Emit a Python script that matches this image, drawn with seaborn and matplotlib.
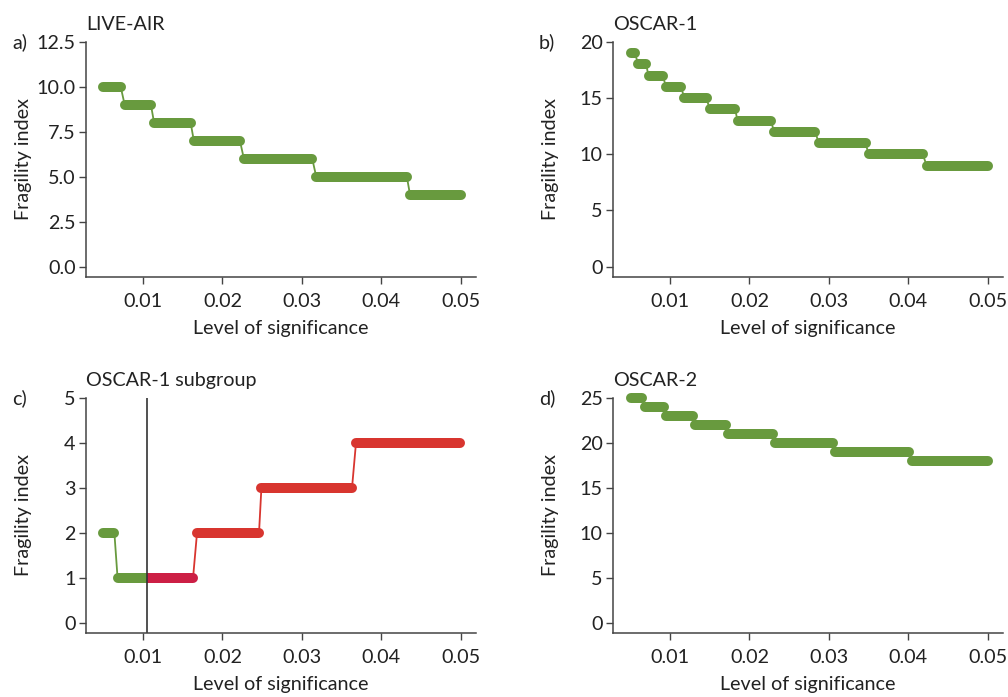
import numpy as np
import pandas as pd
import seaborn as sns
import matplotlib.pyplot as plt
from matplotlib.patches import Rectangle

sns.set_theme(style="ticks")
plt.rcParams['font.family'] = ['Lato', 'DejaVu Sans']

GREEN = "#689a3e"
RED = "#d8352f"
CRIMSON = "#cc1f45"

# fragility index per level of significance, one step per entry
a_vals = [10, 9, 8, 7, 6, 5, 4]
a_start = [0.0050, 0.0077, 0.0114, 0.0164, 0.0227, 0.0318, 0.0436]
a_end = [0.0072, 0.0110, 0.0160, 0.0222, 0.0313, 0.0432, 0.0500]

b_vals = [19, 18, 17, 16, 15, 14, 13, 12, 11, 10, 9]
b_start = [0.0051, 0.0060, 0.0073, 0.0095, 0.0118, 0.0150, 0.0185, 0.0231, 0.0287, 0.0350, 0.0423]
b_end = [0.0056, 0.0070, 0.0091, 0.0114, 0.0146, 0.0182, 0.0227, 0.0283, 0.0346, 0.0418, 0.0500]

c_vals = [2, 1, 1, 2, 3, 4]
c_start = [0.0050, 0.0068, 0.0105, 0.0168, 0.0249, 0.0368]
c_end = [0.0064, 0.0105, 0.0163, 0.0246, 0.0363, 0.0499]
c_cols = [GREEN, GREEN, CRIMSON, RED, RED, RED]
c_cut = 0.0105

d_vals = [25, 24, 23, 22, 21, 20, 19, 18]
d_start = [0.0051, 0.0068, 0.0095, 0.0131, 0.0173, 0.0232, 0.0308, 0.0404]
d_end = [0.0065, 0.0092, 0.0129, 0.0170, 0.0229, 0.0305, 0.0401, 0.0500]

panels = [
    ("a)", "LIVE-AIR", a_vals, a_start, a_end, [GREEN] * 7, np.arange(0, 12.6, 2.5), "{:.1f}"),
    ("b)", "OSCAR-1", b_vals, b_start, b_end, [GREEN] * 11, np.arange(0, 21, 5), "{:.0f}"),
    ("c)", "OSCAR-1 subgroup", c_vals, c_start, c_end, c_cols, np.arange(0, 6, 1), "{:.0f}"),
    ("d)", "OSCAR-2", d_vals, d_start, d_end, [GREEN] * 8, np.arange(0, 26, 5), "{:.0f}"),
]

W, H = 1008, 697
fig = plt.figure(figsize=(W / 100, H / 100), dpi=100)
boxes = [(86, 42), (613, 42), (86, 398), (613, 398)]
FS = 14.2

for (lab, title, vals, xs, xe, cols, yt, fmt), (px, py) in zip(panels, boxes):
    ax = fig.add_axes([px / W, 1 - (py + 235) / H, 390 / W, 235 / H])
    top = yt[-1]

    # thin connectors between steps
    for i in range(1, len(vals)):
        sns.lineplot(x=[xe[i - 1], xs[i]], y=[vals[i - 1], vals[i]], color=cols[i],
                     linewidth=1.3, ax=ax, sort=False, clip_on=False)
    # thick steps
    for i in range(len(vals)):
        sns.lineplot(x=[xs[i], xe[i]], y=[vals[i], vals[i]], color=cols[i],
                     linewidth=7.2, solid_capstyle="round", ax=ax, sort=False,
                     clip_on=False)
        if lab == "c)" and vals[i] == 1:
            ln = ax.lines[-1]
            if cols[i] == GREEN:
                clip = Rectangle((0, -10), c_cut, 50, transform=ax.transData)
            else:
                clip = Rectangle((c_cut, -10), 1, 50, transform=ax.transData)
            ln.set_clip_on(True)
            ln.set_clip_path(clip)

    if lab == "c)":
        ax.axvline(c_cut, color="#333333", linewidth=1.2)

    ax.set_xlim(0.00283, 0.0519)
    ax.set_ylim(-0.046 * top, top)
    ax.set_xticks([0.01, 0.02, 0.03, 0.04, 0.05])
    ax.set_xticklabels(["0.01", "0.02", "0.03", "0.04", "0.05"])
    ax.set_yticks(yt)
    ax.set_yticklabels([fmt.format(v) for v in yt])
    ax.tick_params(labelsize=FS, length=5, width=1, color="#444444",
                   labelcolor="#222222", pad=2.5)
    ax.tick_params(axis="x", pad=6.5)
    sns.despine(ax=ax)
    for s in ["left", "bottom"]:
        ax.spines[s].set_color("#444444")
        ax.spines[s].set_linewidth(1.1)

    ax.set_xlabel("Level of significance", fontsize=FS, color="#222222", labelpad=7.5)
    ax.set_ylabel("Fragility index", fontsize=FS, color="#222222")
    ax.yaxis.set_label_coords(-0.138, 0.5)
    ax.set_title(title, loc="left", fontsize=FS, color="#222222", pad=8.5)
    ax.text(-0.19, 1.0, lab, transform=ax.transAxes, fontsize=FS,
            color="#222222", va="center", ha="left")

fig.savefig("out.png", dpi=100)
